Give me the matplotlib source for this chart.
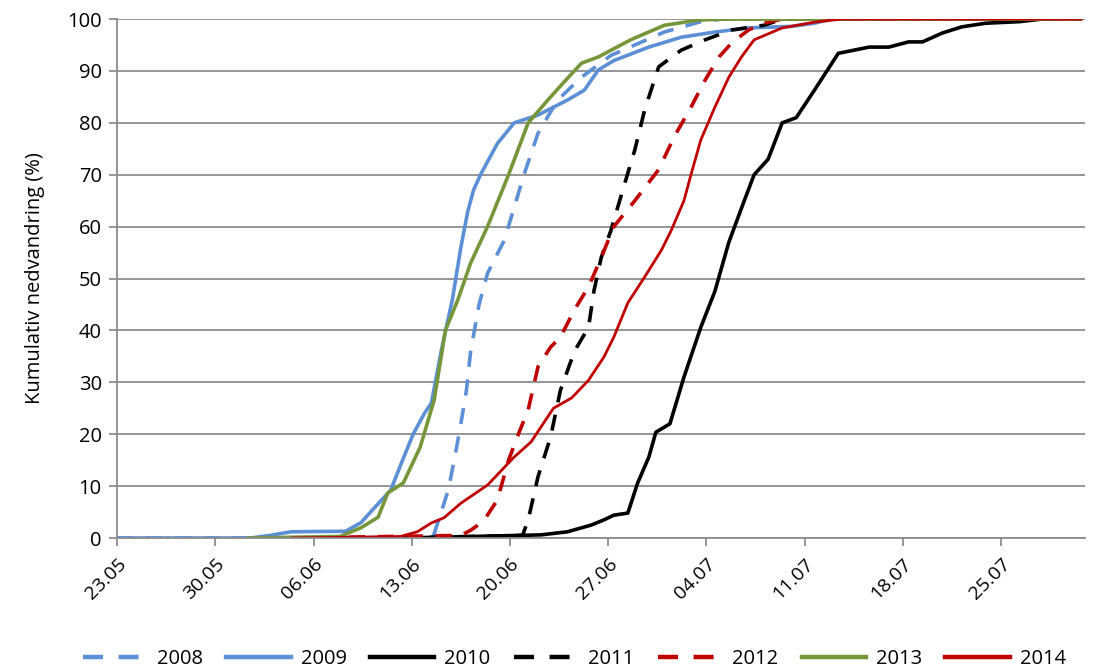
import matplotlib
matplotlib.use("Agg")
import matplotlib.pyplot as plt

# x values: days after 23.05
tick_days = [0, 7, 14, 21, 28, 35, 42, 49, 56, 63]
tick_labels = ["23.05", "30.05", "06.06", "13.06", "20.06", "27.06", "04.07", "11.07", "18.07", "25.07"]

d2008 = [0, 22.5, 23.1, 23.6, 24.1, 24.5, 24.9, 25.2, 25.8, 26.4, 27.6, 29.0, 30.0, 31.4, 33.1, 35.2, 39.0, 41.6, 43.1, 68.7]
v2008 = [0, 0, 5, 9.2, 16, 22, 28.5, 36, 45, 51, 57.4, 70, 78, 84.4, 88.8, 93, 97.5, 99.5, 100, 100]

d2009 = [0, 9.5, 10.9, 12.4, 16.3, 17.4, 18.4, 19.5, 20.2, 21.1, 21.9, 22.4, 23.1, 23.9, 24.5, 25.0, 25.4, 25.9,
         27.1, 28.3, 30.0, 32.1, 33.3, 34.3, 35.4, 37.9, 40.2, 42.6, 45.0, 48.1, 49.7, 50.9, 68.7]
v2009 = [0, 0, 0.5, 1.2, 1.3, 3, 6, 9.2, 14, 20, 24, 26, 36, 46, 56, 63, 67, 70,
         76, 80, 81.5, 84.4, 86.3, 90.2, 92, 94.6, 96.5, 97.5, 98.3, 98.6, 99.2, 100, 100]

d2010 = [20.2, 23.8, 30.2, 32.1, 33.8, 34.7, 35.4, 36.4, 37.1, 37.9, 38.4, 39.4, 40.4, 41.6, 42.6, 43.6, 44.7,
         45.4, 46.4, 47.4, 48.4, 49.7, 51.4, 53.6, 55.0, 56.4, 57.4, 58.8, 60.2, 61.9, 64.3, 65.9, 68.7]
v2010 = [0, 0.2, 0.6, 1.2, 2.5, 3.5, 4.4, 4.8, 10.6, 15.6, 20.4, 22, 31, 40.6, 47.5, 57, 65,
         70, 73, 80, 81, 86.3, 93.4, 94.6, 94.6, 95.6, 95.6, 97.3, 98.5, 99.2, 99.5, 100, 100]

d2011 = [20.2, 28.9, 29.3, 30.0, 30.9, 31.6, 32.6, 33.6, 34.0, 34.5, 35.2, 36.1, 36.9, 37.6, 38.6, 40.2, 41.9,
         43.8, 46.1, 47.4, 68.7]
v2011 = [0, 0.5, 3.5, 11.8, 19.5, 28.5, 36, 40.6, 47.8, 54, 59.3, 67.6, 74.8, 82.5, 90.8, 94, 96,
         97.9, 98.8, 100, 100]

d2012 = [12.4, 24.5, 25.2, 26.1, 27.1, 27.9, 28.6, 29.3, 30.0, 30.9, 31.6, 32.6, 33.6, 34.5, 35.4, 36.9, 38.6,
         39.7, 40.9, 41.9, 42.9, 43.8, 45.0, 46.1, 47.4, 68.7]
v2012 = [0, 0.5, 1.5, 3.2, 7.3, 15, 20, 24.7, 33, 36.8, 38.7, 44, 48.4, 54, 60, 65, 71,
         77.3, 83, 88.2, 92.7, 95.4, 97.9, 99.2, 100, 100]

d2013 = [9.3, 15.9, 17.4, 18.6, 19.3, 20.4, 21.6, 22.6, 23.4, 24.3, 25.2, 26.4, 27.9, 29.3, 30.7, 31.9, 33.1,
         34.3, 36.6, 39.0, 41.4, 43.1, 68.7]
v2013 = [0, 0.3, 2, 4, 8.7, 10.6, 17.5, 26.6, 40, 46, 53, 60, 70, 80, 84.4, 88, 91.5,
         92.7, 96, 98.8, 99.8, 100, 100]

d2014 = [12.4, 20.2, 21.4, 22.4, 23.3, 24.5, 26.4, 28.3, 29.5, 31.1, 32.4, 33.6, 34.7, 35.4, 36.4, 37.6, 38.8,
         39.5, 40.4, 40.9, 41.6, 42.6, 43.6, 44.5, 45.4, 47.4, 49.7, 51.6, 68.7]
v2014 = [0, 0.3, 1.2, 2.9, 3.9, 6.7, 10.2, 15.6, 18.5, 25, 27, 30.4, 34.9, 38.7, 45.3, 50.3, 55.5,
         59.3, 65, 70, 76.7, 83, 88.8, 92.7, 96, 98.3, 99.4, 100, 100]

plt.rcParams['font.family'] = ['Open Sans', 'DejaVu Sans']

fig = plt.figure(figsize=(10.94, 6.67), dpi=100)
ax = fig.add_axes([0.107, 0.1934, 0.885, 0.778])

blue = '#5B8FD6'
green = '#76963A'
red = '#C00000'
black = '#000000'
dash = (0, (4.5, 3.5))

series = [
    ("2008", d2008, v2008, blue, dash, 2.6),
    ("2009", d2009, v2009, blue, '-', 2.6),
    ("2010", d2010, v2010, black, '-', 2.6),
    ("2011", d2011, v2011, black, dash, 2.6),
    ("2012", d2012, v2012, red, dash, 2.6),
    ("2013", d2013, v2013, green, '-', 2.6),
    ("2014", d2014, v2014, red, '-', 2.0),
]
for name, d, v, c, ls, lw in series:
    ax.plot(d, v, color=c, linestyle=ls, linewidth=lw, label=name, solid_capstyle='round')

ax.set_xlim(0, 69)
ax.set_ylim(0, 100)
ax.set_yticks(range(0, 101, 10))
ax.yaxis.grid(True, color='#8C8C8C', linewidth=1.3)
ax.set_axisbelow(True)
ax.set_xticks(tick_days)
ax.set_xticklabels(tick_labels, rotation=45, ha='right', rotation_mode='anchor', fontsize=14)
ax.tick_params(axis='y', labelsize=14.5, length=6, color='#8C8C8C', width=1.3, pad=5)
ax.tick_params(axis='x', length=6, color='#8C8C8C', width=1.3, pad=6)
for s in ['top', 'right']:
    ax.spines[s].set_visible(False)
ax.spines['left'].set_color('#8C8C8C')
ax.spines['bottom'].set_color('#8C8C8C')
ax.spines['left'].set_linewidth(1.3)
ax.spines['bottom'].set_linewidth(1.3)
ax.set_ylabel("Kumulativ nedvandring (%)", fontsize=14.5, labelpad=16)

leg_handles = []
for name, d, v, c, ls, lw in series:
    h, = ax.plot([], [], color=c, linestyle=ls, linewidth=3.2)
    leg_handles.append(h)
fig.legend(leg_handles, [s[0] for s in series], loc='lower center', ncol=7, frameon=False,
           bbox_to_anchor=(0.525, -0.03), fontsize=14.5, handlelength=3.2, columnspacing=1.15, handletextpad=0.5)

fig.savefig("out.png", dpi=100)
